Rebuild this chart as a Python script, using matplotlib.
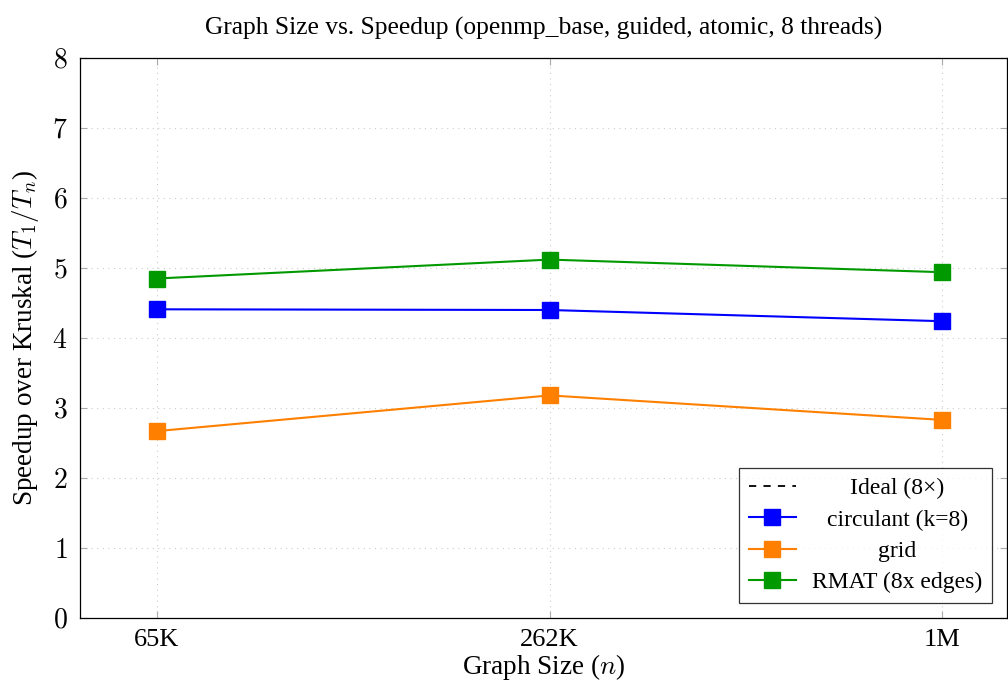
import matplotlib.pyplot as plt

plt.rcParams['font.family'] = ['Liberation Serif', 'DejaVu Serif']
plt.rcParams['mathtext.fontset'] = 'cm'

# data
sizes = ['65K', '262K', '1M']
circulant = [4.41, 4.40, 4.24]
grid = [2.67, 3.18, 2.83]
rmat = [4.85, 5.12, 4.94]
ideal = [8, 8, 8]

fig = plt.figure(figsize=(10.08, 6.89), dpi=100)
ax = fig.add_axes([80 / 1008, 71 / 689, 927 / 1008, 560 / 689])

x = list(range(len(sizes)))
ax.plot(x, ideal, linestyle=(0, (4, 4)), color='black', lw=1.3, label='Ideal (8×)', zorder=5)
ax.plot(x, circulant, '-s', color='#0000ff', lw=1.5, ms=11, label='circulant (k=8)')
ax.plot(x, grid, '-s', color='#ff8000', lw=1.5, ms=11, label='grid')
ax.plot(x, rmat, '-s', color='#009900', lw=1.5, ms=11, label='RMAT (8x edges)')

ax.set_xlim(-0.196, 2.165)
ax.set_ylim(0, 8)
ax.set_xticks(x)
ax.set_xticklabels(sizes)
ax.set_yticks(range(9))
ax.set_yticklabels(['$%d$' % v for v in range(9)])
ax.tick_params(direction='in', color='#aaaaaa', length=5, labelsize=19,
               top=True, right=True, pad=8)
ax.tick_params(axis='y', labelsize=20, pad=9)
ax.grid(True, linestyle=(0, (1, 4)), color='#cccccc', lw=0.8)
for s in ax.spines.values():
    s.set_linewidth(0.9)

ax.set_title('Graph Size vs. Speedup (openmp_base, guided, atomic, 8 threads)',
             fontsize=18.4, pad=17)
ax.set_xlabel('Graph Size ($n$)', fontsize=19.5, labelpad=1)
ax.set_ylabel('Speedup over Kruskal ($T_1/T_n$)', fontsize=19.5)
ax.yaxis.set_label_coords(-0.042, 0.5)

leg = ax.legend(loc='lower right', bbox_to_anchor=(0.984, 0.027), fontsize=17,
                frameon=True, fancybox=False, edgecolor='black',
                handlelength=2.0, borderpad=0.4, labelspacing=0.42,
                handletextpad=0.7, borderaxespad=0)
leg.get_frame().set_linewidth(0.9)

# center the legend labels like pgfplots does
fig.canvas.draw()
widths = [t.get_window_extent().width for t in leg.get_texts()]
wmax = max(widths)
for t, w in zip(leg.get_texts(), widths):
    t.set_position(((wmax - w) / 2, 0))

fig.savefig('out.png', dpi=100)
